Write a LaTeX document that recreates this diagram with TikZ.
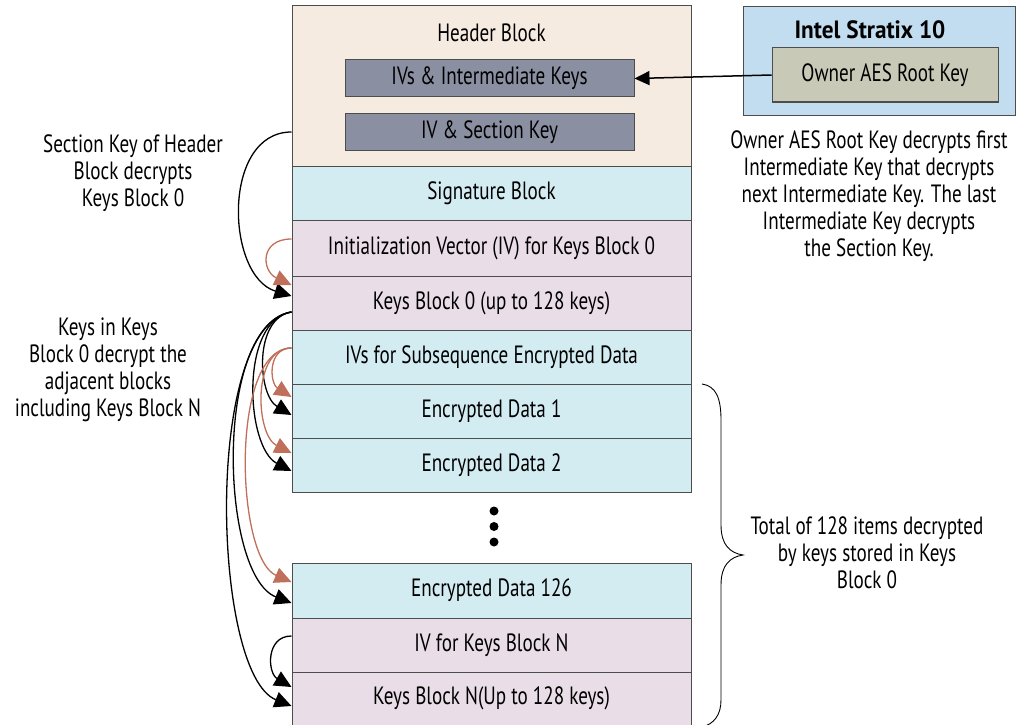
\documentclass[tikz,border=0pt]{standalone}
\usepackage{fontspec}
\setmainfont{PT Sans}[FakeStretch=0.765]
\newfontfamily\headfont{PT Sans}[FakeStretch=0.93]
\usetikzlibrary{arrows.meta,calc}
\definecolor{hdrc}{HTML}{F5EBE1}
\definecolor{keyc}{HTML}{8A90A2}
\definecolor{bluec}{HTML}{D3ECF2}
\definecolor{pinkc}{HTML}{E9DDE7}
\definecolor{intelc}{HTML}{C3DDF0}
\definecolor{ownerc}{HTML}{C9C9B8}
\definecolor{redc}{HTML}{C0705A}
\definecolor{bordc}{HTML}{4D4D4D}
\tikzset{
  row/.style={draw=bordc, line width=1pt, minimum width=399pt, inner sep=0pt},
  keybox/.style={draw=bordc, line width=1pt, fill=keyc, minimum width=289pt, minimum height=37pt, inner sep=0pt},
  txt/.style={align=center, inner sep=0pt},
  blk/.style={draw=black, line width=1.3pt, -{Triangle[length=17pt,width=16pt]}},
  rd/.style={draw=redc, line width=1.3pt, -{Triangle[length=17pt,width=16pt]}},
}
\begin{document}
\begin{tikzpicture}[x=1pt,y=-1pt,font=\fontsize{25}{27}\selectfont]
\useasboundingbox (0,0) rectangle (1026,725);
% header block
\node[row, fill=hdrc, minimum height=160pt] (hdr) at (491.5,86) {};
\node[txt] (hdrt) at (491.5,33) {Header Block};
\node[keybox] (ivk) at (489.5,78.5) {IVs \& Intermediate Keys};
\node[keybox] (ivsk) at (489.5,132) {IV \& Section Key};
% rows
\node[row, fill=bluec, minimum height=54pt] (sig) at (491.5,193) {Signature Block};
\node[row, fill=pinkc, minimum height=56pt] (iv0) at (491.5,248) {Initialization Vector (IV) for Keys Block 0};
\node[row, fill=pinkc, minimum height=54pt] (k0) at (491.5,303) {Keys Block 0 (up to 128 keys)};
\node[row, fill=bluec, minimum height=54pt] (ivs) at (491.5,357) {IVs for Subsequence Encrypted Data};
\node[row, fill=bluec, minimum height=54pt] (ed1) at (491.5,411) {Encrypted Data 1};
\node[row, fill=bluec, minimum height=54pt] (ed2) at (491.5,465) {Encrypted Data 2};
\node[row, fill=bluec, minimum height=55pt] (ed126) at (491.5,590.5) {Encrypted Data 126};
\node[row, fill=pinkc, minimum height=54pt] (ivn) at (491.5,645) {IV for Keys Block N};
\node[row, fill=pinkc, minimum height=53pt] (kbn) at (491.5,698.5) {Keys Block N(Up to 128 keys)};
% dots
\fill (494,511) circle (4.5);
\fill (494,526.5) circle (4.5);
\fill (494,542) circle (4.5);
% Intel box
\node[draw=bordc, line width=1pt, fill=intelc, minimum width=272pt, minimum height=108pt] (intel) at (879,61) {};
\node[txt, font=\fontsize{25}{27}\headfont\bfseries] (intelt) at (870,30) {Intel Stratix 10};
\node[draw=bordc, line width=1pt, fill=ownerc, minimum width=226pt, minimum height=54pt, inner sep=0pt] (owner) at (885,75) {Owner AES Root Key};
\draw[line width=1.5pt, -{Triangle[length=15pt,width=14pt]}] (owner.west) -- (ivk.east);
% texts
\node[txt] (note) at (869,196) {Owner AES Root Key decrypts first\\Intermediate Key that decrypts\\next Intermediate Key. The last\\Intermediate Key decrypts\\the Section Key.};
\node[txt] (sect) at (133,173) {Section Key of Header\\Block decrypts\\Keys Block 0};
\node[txt] (keysin) at (108,370) {Keys in Keys\\Block 0 decrypt the\\adjacent blocks\\including Keys Block N};
\node[txt] (total) at (867,553) {Total of 128 items decrypted\\by keys stored in Keys\\Block 0};
% brace
\draw[line width=0.9pt] (702,384) .. controls (716,386) and (721,398) .. (721,420) -- (721,525) .. controls (721,545) and (730,553) .. (743,555)
  .. controls (730,557) and (721,565) .. (721,585) -- (721,700) .. controls (721,715) and (714,724) .. (702,727);
% arrows
\draw[blk] ($(hdr.west)+(0,46)$) .. controls +(-70,0) and +(-66,-20) .. ($(k0.west)+(0,-7)$);
\draw[rd] ($(iv0.west)+(0,-9)$) .. controls +(-32,0) and +(-30,-14) .. ($(k0.west)+(0,-18)$);
\draw[blk] ($(k0.west)+(0,9)$) .. controls +(-38,6) and +(-34,-20) .. ($(ed1.west)+(0,4)$);
\draw[blk] ($(k0.west)+(0,9)$) .. controls +(-52,8) and +(-46,-24) .. ($(ed2.west)+(0,6)$);
\draw[blk] ($(k0.west)+(0,9)$) .. controls +(-78,12) and +(-72,-28) .. ($(ed126.west)+(0,12.5)$);
\draw[blk] ($(k0.west)+(0,9)$) .. controls +(-88,12) and +(-80,-32) .. ($(kbn.west)+(0,7.5)$);
\draw[rd] ($(ivs.west)+(0,-9)$) .. controls +(-24,0) and +(-22,-14) .. ($(ed1.west)+(0,-14)$);
\draw[rd] ($(ivs.west)+(0,-9)$) .. controls +(-40,0) and +(-36,-18) .. ($(ed2.west)+(0,-12)$);
\draw[rd] ($(ivs.west)+(0,-9)$) .. controls +(-62,0) and +(-56,-24) .. ($(ed126.west)+(0,-8.5)$);
\draw[blk] ($(ivn.west)+(0,-9)$) .. controls +(-26,0) and +(-24,-14) .. ($(kbn.west)+(0,-11.5)$);
\end{tikzpicture}
\end{document}
